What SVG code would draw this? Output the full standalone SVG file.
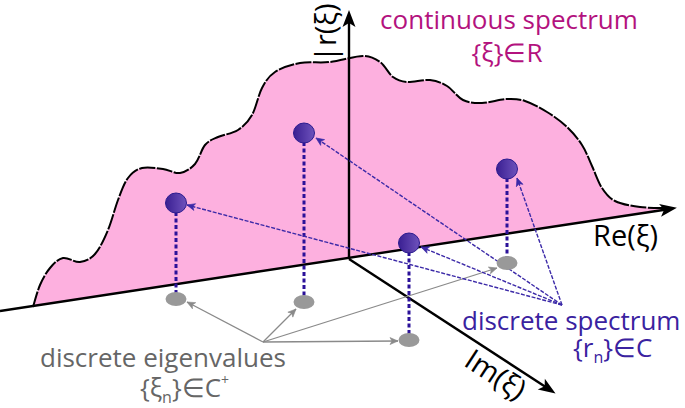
<svg xmlns="http://www.w3.org/2000/svg" width="685" height="408" viewBox="0 0 685 408">
<style>
.axis{stroke:#000;stroke-width:2.4;fill:none}
.gray{stroke:#8a8a8a;stroke-width:1.3;fill:none}
.blue{stroke:#3c2aa8;stroke-width:1.4;fill:none;stroke-dasharray:4 1.5}
.drop{stroke:#2b1199;stroke-width:3;fill:none;stroke-dasharray:4 2.5}
.bpt{fill:url(#bg);stroke:#2a1a8f;stroke-width:1}
.gpt{fill:#999}
text{font-family:"Open Sans","Liberation Sans",sans-serif;font-size:26px}
.ax{font-size:29px}
</style>
<defs>
<linearGradient id="bg" x1="0" y1="0" x2="1" y2="0">
<stop offset="0" stop-color="#3a1f92"/>
<stop offset="1" stop-color="#6e52bc"/>
</linearGradient>
<marker id="ah" markerUnits="userSpaceOnUse" markerWidth="30" markerHeight="30" refX="0" refY="0" orient="auto" overflow="visible">
<path d="M9,0 L-8,-6.5 L-4,0 L-8,6.5 Z" fill="#000"/>
</marker>
<marker id="ga" markerUnits="userSpaceOnUse" markerWidth="20" markerHeight="20" refX="0" refY="0" orient="auto" overflow="visible">
<path d="M0,0 L-8,-3.5 L-6,0 L-8,3.5 Z" fill="#8a8a8a" stroke="#8a8a8a" stroke-width="0.6"/>
</marker>
<marker id="ba" markerUnits="userSpaceOnUse" markerWidth="20" markerHeight="20" refX="0" refY="0" orient="auto" overflow="visible">
<path d="M0,0 L-8,-3.5 L-6,0 L-8,3.5 Z" fill="#3c2aa8" stroke="#3c2aa8" stroke-width="0.6"/>
</marker>
</defs>

<g id="continuous-region">
<path fill="#fdb0df" stroke="none" d="M33,307 C34.2,303.3 37.2,291.5 40,285 C42.8,278.5 46.2,272.5 50,268 C53.8,263.5 58,259 63,258 C68,257 74.7,262.7 80,262 C85.3,261.3 90.3,259.3 95,254 C99.7,248.7 104.2,239 108,230 C111.8,221 114.7,208.7 118,200 C121.3,191.3 124,183.3 128,178 C132,172.7 136.2,169.5 142,168 C147.8,166.5 156.7,168.2 163,169 C169.3,169.8 174.7,173.8 180,173 C185.3,172.2 190.8,168.7 195,164 C199.2,159.3 201.2,149.5 205,145 C208.8,140.5 212.5,139.5 218,137 C223.5,134.5 232.3,133.7 238,130 C243.7,126.3 248,122 252,115 C256,108 258.2,95.2 262,88 C265.8,80.8 268.7,76.2 275,72 C281.3,67.8 290.8,64.7 300,63 C309.2,61.3 319.5,63.2 330,62 C340.5,60.8 354.7,56 363,56 C371.3,56 375,58.5 380,62 C385,65.5 388.5,73.7 393,77 C397.5,80.3 400.8,81.5 407,82 C413.2,82.5 423.3,79.3 430,80 C436.7,80.7 441.5,82.7 447,86 C452.5,89.3 457.2,97.2 463,100 C468.8,102.8 474.7,103.2 482,103 C489.3,102.8 499.8,99.3 507,99 C514.2,98.7 518.3,98.8 525,101 C531.7,103.2 540,107.7 547,112 C554,116.3 561.2,121.5 567,127 C572.8,132.5 577.8,138.5 582,145 C586.2,151.5 588.7,158.8 592,166 C595.3,173.2 598.2,182.2 602,188 C605.8,193.8 608.7,197.8 615,201 C621.3,204.2 631.2,205.8 640,207 C648.8,208.2 663.3,207.8 668,208 L668,209.2 L33,306 Z"/>
<path fill="none" stroke="#000" stroke-width="2" stroke-dasharray="16 1.5" d="M33,307 C34.2,303.3 37.2,291.5 40,285 C42.8,278.5 46.2,272.5 50,268 C53.8,263.5 58,259 63,258 C68,257 74.7,262.7 80,262 C85.3,261.3 90.3,259.3 95,254 C99.7,248.7 104.2,239 108,230 C111.8,221 114.7,208.7 118,200 C121.3,191.3 124,183.3 128,178 C132,172.7 136.2,169.5 142,168 C147.8,166.5 156.7,168.2 163,169 C169.3,169.8 174.7,173.8 180,173 C185.3,172.2 190.8,168.7 195,164 C199.2,159.3 201.2,149.5 205,145 C208.8,140.5 212.5,139.5 218,137 C223.5,134.5 232.3,133.7 238,130 C243.7,126.3 248,122 252,115 C256,108 258.2,95.2 262,88 C265.8,80.8 268.7,76.2 275,72 C281.3,67.8 290.8,64.7 300,63 C309.2,61.3 319.5,63.2 330,62 C340.5,60.8 354.7,56 363,56 C371.3,56 375,58.5 380,62 C385,65.5 388.5,73.7 393,77 C397.5,80.3 400.8,81.5 407,82 C413.2,82.5 423.3,79.3 430,80 C436.7,80.7 441.5,82.7 447,86 C452.5,89.3 457.2,97.2 463,100 C468.8,102.8 474.7,103.2 482,103 C489.3,102.8 499.8,99.3 507,99 C514.2,98.7 518.3,98.8 525,101 C531.7,103.2 540,107.7 547,112 C554,116.3 561.2,121.5 567,127 C572.8,132.5 577.8,138.5 582,145 C586.2,151.5 588.7,158.8 592,166 C595.3,173.2 598.2,182.2 602,188 C605.8,193.8 608.7,197.8 615,201 C621.3,204.2 631.2,205.8 640,207 C648.8,208.2 663.3,207.8 668,208"/>
</g>

<g id="axes">
<line class="axis" x1="0" y1="311" x2="668" y2="209.2" marker-end="url(#ah)"/>
<line class="axis" x1="349" y1="259" x2="349" y2="19" marker-end="url(#ah)"/>
<line class="axis" x1="349" y1="259" x2="548" y2="388.5" marker-end="url(#ah)"/>
<text class="ax" x="593" y="246" fill="#000">Re(ξ)</text>
<text class="ax" transform="translate(336,62) rotate(-90)" fill="#000">|r(ξ)|</text>
<text class="ax" transform="translate(490,383) rotate(33)" text-anchor="middle" fill="#000">Im(ξ)</text>
</g>

<g id="connectors">
<line class="drop" x1="176" y1="212" x2="176" y2="299"/>
<line class="drop" x1="304" y1="142" x2="304" y2="302"/>
<line class="drop" x1="409" y1="252" x2="409" y2="340"/>
<line class="drop" x1="507" y1="178" x2="507" y2="263"/>
<line class="gray" x1="263" y1="342" x2="187" y2="302" marker-end="url(#ga)"/>
<line class="gray" x1="263" y1="342" x2="296" y2="309" marker-end="url(#ga)"/>
<line class="gray" x1="263" y1="342" x2="398" y2="341" marker-end="url(#ga)"/>
<line class="gray" x1="263" y1="342" x2="497" y2="268" marker-end="url(#ga)"/>
<line class="blue" x1="562" y1="305" x2="187" y2="205" marker-end="url(#ba)"/>
<line class="blue" x1="562" y1="305" x2="316" y2="138" marker-end="url(#ba)"/>
<line class="blue" x1="562" y1="305" x2="421" y2="247" marker-end="url(#ba)"/>
<line class="blue" x1="562" y1="305" x2="517" y2="178" marker-end="url(#ba)"/>
</g>

<g id="eigen-1"><ellipse class="gpt" cx="176" cy="299" rx="10.5" ry="7"/></g>
<g id="eigen-2"><ellipse class="gpt" cx="304" cy="302" rx="10.5" ry="7"/></g>
<g id="eigen-3"><ellipse class="gpt" cx="409" cy="340" rx="10.5" ry="7"/></g>
<g id="eigen-4"><ellipse class="gpt" cx="507" cy="263" rx="10.5" ry="7"/></g>

<g id="spec-1"><ellipse class="bpt" cx="176" cy="203" rx="10.5" ry="10"/></g>
<g id="spec-2"><ellipse class="bpt" cx="304" cy="133" rx="10.5" ry="10"/></g>
<g id="spec-3"><ellipse class="bpt" cx="409" cy="243" rx="10.5" ry="10"/></g>
<g id="spec-4"><ellipse class="bpt" cx="507" cy="169" rx="10.5" ry="10"/></g>

<g id="label-continuous" fill="#b3127e">
<text x="509" y="29" text-anchor="middle">continuous spectrum</text>
<text x="507" y="62" text-anchor="middle">{ξ}∈R</text>
</g>
<g id="label-discrete-spectrum" fill="#3a22a0">
<text x="462" y="330">discrete spectrum</text>
<text x="573" y="357">{r<tspan font-size="16" dy="6">n</tspan><tspan dy="-6">}∈C</tspan></text>
</g>
<g id="label-eigenvalues" fill="#666">
<text x="40" y="367">discrete eigenvalues</text>
<text x="140" y="397">{ξ<tspan font-size="16" dy="6">n</tspan><tspan dy="-6">}∈C</tspan><tspan font-size="14" dy="-12">+</tspan></text>
</g>
</svg>
